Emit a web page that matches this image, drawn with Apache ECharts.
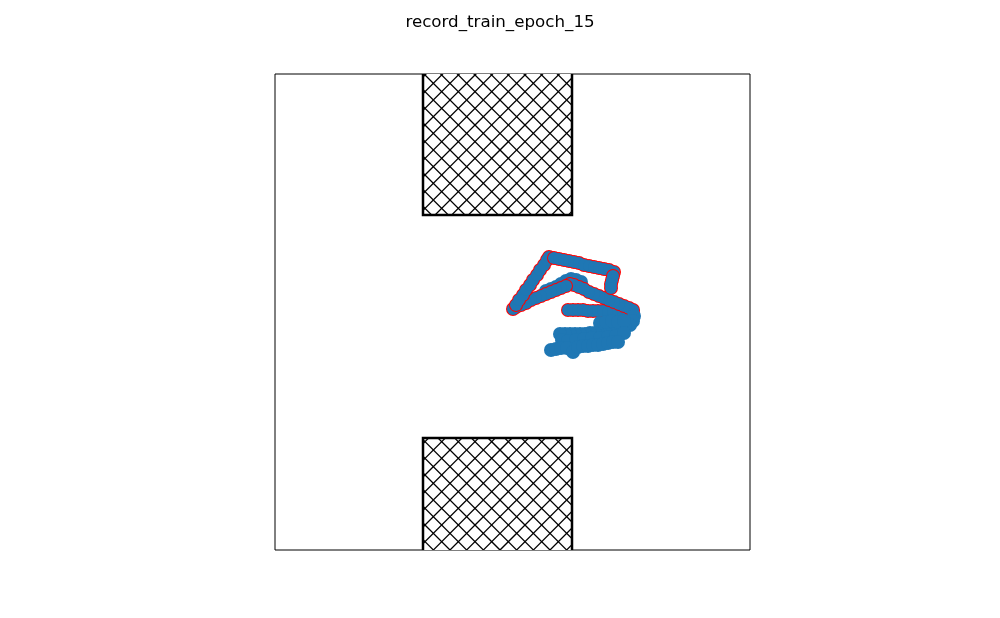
<!DOCTYPE html>
<html>
<head>
<meta charset="utf-8">
<script src="https://cdn.jsdelivr.net/npm/echarts@6/dist/echarts.min.js"></script>
<style>html,body{margin:0;padding:0;background:#fff}#chart{width:1000px;height:618px}</style>
</head>
<body>
<div id="chart"></div>
<script>
// ---- data ----
const TITLE = 'record_train_epoch_15';
const X_MIN = 0, X_MAX = 9.5, Y_MIN = 0, Y_MAX = 9.52;

// obstacles (hatched walls)
const obsX0 = [2.96, 2.96];
const obsX1 = [5.94, 5.94];
const obsY0 = [6.70, 0.00];
const obsY1 = [9.52, 2.24];

// trajectory points with red edge
const redX = [5.86,5.96,6.06,6.16,6.26,6.36,6.46,6.56,6.66,6.76,6.86,6.96,7.06,7.16,
  7.16,7.08,6.98,6.88,6.78,6.68,6.58,6.48,6.38,6.28,6.18,6.08,5.98,5.90,
  5.82,5.72,5.62,5.52,5.42,5.32,5.22,5.12,5.02,4.92,4.82,4.76,
  4.82,4.88,4.96,5.02,5.10,5.16,5.24,5.30,5.38,5.44,5.48,
  5.58,5.68,5.78,5.88,5.98,6.08,6.18,6.28,6.38,6.48,6.58,6.68,6.78,
  6.76,6.74,6.72,6.72];
const redY = [4.80,4.80,4.80,4.80,4.78,4.78,4.78,4.78,4.76,4.76,4.76,4.76,4.74,4.74,
  4.80,4.84,4.88,4.92,4.96,5.00,5.04,5.08,5.12,5.16,5.22,5.26,5.30,5.32,
  5.28,5.24,5.20,5.16,5.12,5.08,5.04,5.00,4.94,4.90,4.86,4.82,
  4.90,5.00,5.10,5.20,5.30,5.40,5.50,5.60,5.70,5.80,5.86,
  5.84,5.82,5.80,5.78,5.76,5.74,5.70,5.68,5.66,5.64,5.62,5.60,5.56,
  5.48,5.40,5.32,5.24];
// index where each stroke of the red trajectory begins
const redSegStart = [0, 14, 28, 40, 51, 64, 68];

// points without edge, drawn beneath the red trajectory
const underX = [5.42,5.52,5.62,5.72,5.82,5.92,6.02,6.12];
const underY = [5.18,5.22,5.26,5.32,5.38,5.42,5.40,5.36];

// points without edge, drawn on top (lower cluster)
const clusterX = [7.18,7.16,7.10,7.00,6.90,6.80,6.70,6.60,6.50,
  6.50,6.62,6.74,6.86,6.98,
  6.40,6.30,6.20,6.10,6.00,5.90,5.80,5.70,
  5.74,5.86,6.02,6.18,6.34,6.50,6.66,6.82,6.98,
  5.52,5.62,5.72,5.84,5.96,6.06,6.16,6.26,6.36,6.46,6.56,6.66,6.76,6.86];
const clusterY = [4.68,4.58,4.50,4.46,4.42,4.40,4.38,4.36,4.36,
  4.54,4.56,4.58,4.56,4.58,
  4.34,4.34,4.32,4.32,4.32,4.32,4.32,4.32,
  4.20,4.18,4.20,4.22,4.24,4.24,4.26,4.28,4.34,
  4.00,4.02,4.04,4.04,3.96,4.06,4.08,4.08,4.10,4.10,4.12,4.14,4.16,4.16];

// ---- build ----
const zip = (a, b) => a.map((v, i) => [v, b[i]]);
const obstacles = obsX0.map((v, i) => [v, obsX1[i], obsY0[i], obsY1[i]]);
const redPts = zip(redX, redY);

// crosshatch pattern
const pc = document.createElement('canvas');
pc.width = 100; pc.height = 100;
const g = pc.getContext('2d');
g.fillStyle = '#fff'; g.fillRect(0, 0, 100, 100);
g.strokeStyle = '#000'; g.lineWidth = 1.25;
const s = 100 / 6;
for (let k = -7; k <= 13; k++) {
  const c = k * s;
  g.beginPath(); g.moveTo(c, 0); g.lineTo(c + 100, 100); g.stroke();
  g.beginPath(); g.moveTo(c, 0); g.lineTo(c - 100, 100); g.stroke();
}

const BLUE = '#1f77b4';
const RED = '#ff0000';
const OUTER = 14, INNER = 12;

const series = [
  {
    type: 'custom',
    data: obstacles,
    encode: {x: [0, 1], y: [2, 3]},
    renderItem: function (params, api) {
      const x0 = api.value(0), x1 = api.value(1), y0 = api.value(2), y1 = api.value(3);
      const tl = api.coord([x0, y1]), br = api.coord([x1, y0]);
      const openTop = y1 >= Y_MAX;
      const pts = openTop
        ? [[tl[0], tl[1]], [tl[0], br[1]], [br[0], br[1]], [br[0], tl[1]]]
        : [[tl[0], br[1]], [tl[0], tl[1]], [br[0], tl[1]], [br[0], br[1]]];
      return {
        type: 'group',
        children: [
          {type: 'rect', shape: {x: tl[0], y: tl[1], width: br[0] - tl[0], height: br[1] - tl[1]},
           style: {fill: {image: pc, repeat: 'repeat'}}},
          {type: 'polyline', shape: {points: pts}, style: {stroke: '#000', lineWidth: 2.5, fill: null}}
        ]
      };
    },
    z: 1
  },
  {
    type: 'scatter', data: zip(underX, underY), symbolSize: OUTER,
    itemStyle: {color: BLUE, opacity: 1}, z: 2, silent: true
  }
];

let z = 3;
for (let i = 0; i < redSegStart.length; i++) {
  const seg = redPts.slice(redSegStart[i], i + 1 < redSegStart.length ? redSegStart[i + 1] : redPts.length);
  series.push({type: 'scatter', data: seg, symbolSize: OUTER, itemStyle: {color: RED, opacity: 1}, z: z++, silent: true});
  series.push({type: 'scatter', data: seg, symbolSize: INNER, itemStyle: {color: BLUE, opacity: 1}, z: z++, silent: true});
}
series.push({
  type: 'scatter', data: zip(clusterX, clusterY), symbolSize: OUTER,
  itemStyle: {color: BLUE, opacity: 1}, z: z++, silent: true
});

const chart = echarts.init(document.getElementById('chart'), null, {renderer: 'canvas'});
chart.setOption({
  animation: false,
  backgroundColor: '#fff',
  title: {
    text: TITLE, left: 'center', top: 9,
    textStyle: {fontFamily: 'DejaVu Sans', fontSize: 16.7, fontWeight: 'normal', color: '#000'}
  },
  grid: {left: 275, top: 74, width: 475, height: 476, show: true, borderColor: '#000', borderWidth: 1, backgroundColor: 'transparent'},
  xAxis: {type: 'value', min: X_MIN, max: X_MAX, axisLine: {show: false}, axisTick: {show: false}, axisLabel: {show: false}, splitLine: {show: false}},
  yAxis: {type: 'value', min: Y_MIN, max: Y_MAX, axisLine: {show: false}, axisTick: {show: false}, axisLabel: {show: false}, splitLine: {show: false}},
  series: series
});
</script>
</body>
</html>
